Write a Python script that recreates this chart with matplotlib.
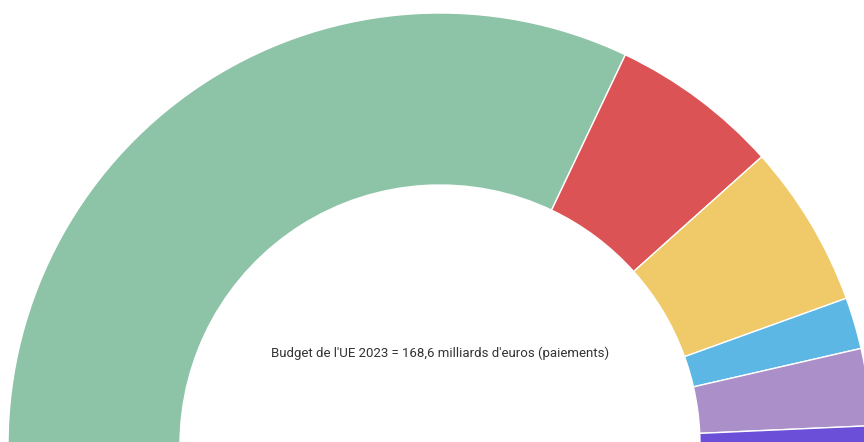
import matplotlib
matplotlib.use("Agg")
import matplotlib.pyplot as plt

# EU budget 2023, payments (billions of euros), read from the half donut
categories = ["Groupe 1", "Groupe 2", "Groupe 3", "Groupe 4", "Groupe 5", "Groupe 6"]
values = [108.1, 21.3, 20.6, 6.5, 9.7, 2.4]
colors = ["#8dc3a7", "#dc5356", "#f0ca69", "#5db7e4", "#ab8fc9", "#6b4fd8"]
caption = "Budget de l'UE 2023 = 168,6 milliards d'euros (paiements)"

plt.rcParams["font.family"] = ["Roboto", "DejaVu Sans"]

fig = plt.figure(figsize=(8.64, 4.42), dpi=100)
ax = fig.add_axes([0, 0, 1, 1])

# hidden lower half so the visible part is a semicircle
total = sum(values)
ax.pie(
    values + [total],
    colors=colors + ["none"],
    startangle=180,
    counterclock=False,
    center=(440, -3),
    radius=432,
    wedgeprops={"width": 172, "edgecolor": "white", "linewidth": 1},
)
# remove the edge of the hidden wedge
ax.patches[-1].set_edgecolor("none")

ax.text(440, 89, caption, ha="center", va="center", fontsize=9.5, color="#333333")

ax.set_xlim(0, 864)
ax.set_ylim(0, 442)
ax.set_aspect("equal")
ax.axis("off")

fig.savefig("out.png", dpi=100)
